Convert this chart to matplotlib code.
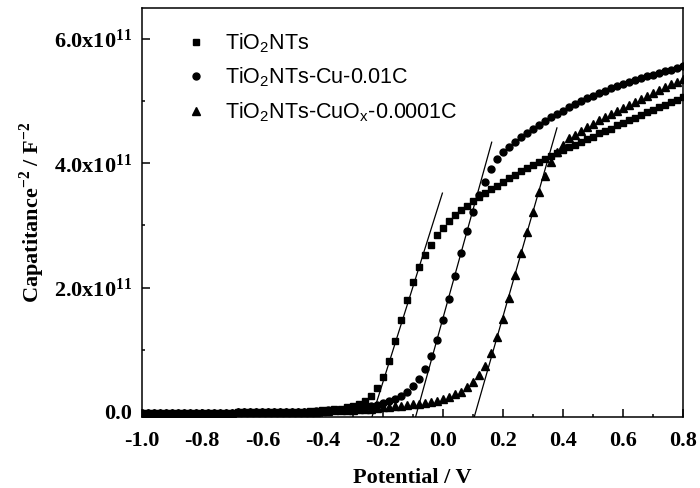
import numpy as np
import matplotlib
matplotlib.use('Agg')
import matplotlib.pyplot as plt
from matplotlib.ticker import MultipleLocator, FuncFormatter

plt.rcParams['font.family'] = ['Liberation Serif', 'DejaVu Serif']
plt.rcParams['mathtext.fontset'] = 'custom'
plt.rcParams['mathtext.rm'] = 'Liberation Serif:bold'
plt.rcParams['mathtext.bf'] = 'Liberation Serif:bold'
plt.rcParams['mathtext.sf'] = 'Liberation Sans'

## potential sweep, 0.02 V step
potential = np.linspace(-1.0, 0.8, 91)

## Capacitance^-2 in units of 1e11 F^-2
tio2 = ([-0.02] * 16 + [-0.01] * 9 +
        [0.00, 0.00, 0.00, 0.01, 0.01, 0.02, 0.03, 0.04, 0.05, 0.07,
         0.09, 0.12, 0.17, 0.25, 0.38, 0.56, 0.82, 1.14, 1.48, 1.80,
         2.09, 2.33, 2.53, 2.69, 2.84, 2.96, 3.07, 3.16, 3.25, 3.32,
         3.39, 3.46, 3.52, 3.58, 3.64, 3.70, 3.76, 3.81, 3.87, 3.92,
         3.97, 4.02, 4.07, 4.12, 4.17, 4.21, 4.26, 4.30, 4.35, 4.39,
         4.43, 4.48, 4.52, 4.56, 4.61, 4.65, 4.69, 4.73, 4.78, 4.82,
         4.86, 4.90, 4.94, 4.98, 5.02, 5.06])
tio2_cu = ([-0.02] * 16 + [-0.01] * 9 +
           [-0.01, 0.00, 0.00, 0.00, 0.01, 0.01, 0.02, 0.02, 0.03, 0.04,
            0.05, 0.06, 0.07, 0.09, 0.11, 0.14, 0.18, 0.21, 0.26, 0.32,
            0.41, 0.53, 0.69, 0.90, 1.16, 1.47, 1.82, 2.18, 2.56, 2.91,
            3.22, 3.49, 3.70, 3.91, 4.07, 4.18, 4.27, 4.35, 4.42, 4.49,
            4.56, 4.62, 4.68, 4.74, 4.80, 4.85, 4.90, 4.95, 5.00, 5.05,
            5.09, 5.13, 5.17, 5.21, 5.25, 5.28, 5.31, 5.34, 5.37, 5.40,
            5.43, 5.45, 5.48, 5.51, 5.54, 5.57])
tio2_cuox = ([-0.02] * 16 + [-0.01] * 9 +
             [-0.01, -0.01, 0.00, 0.00, 0.00, 0.01, 0.01, 0.02, 0.02, 0.03,
              0.03, 0.04, 0.04, 0.05, 0.06, 0.07, 0.08, 0.09, 0.10, 0.11,
              0.12, 0.13, 0.14, 0.16, 0.18, 0.21, 0.24, 0.28, 0.32, 0.39,
              0.48, 0.59, 0.74, 0.94, 1.20, 1.50, 1.83, 2.20, 2.56, 2.90,
              3.22, 3.53, 3.80, 4.02, 4.18, 4.30, 4.40, 4.46, 4.52, 4.58,
              4.64, 4.69, 4.74, 4.79, 4.84, 4.89, 4.94, 4.99, 5.04, 5.09,
              5.14, 5.18, 5.23, 5.27, 5.31, 5.35])

## linear fits (end points, V and 1e11 F^-2)
fit_tio2 = ([-0.235, -0.001], [-0.08, 3.52])
fit_cu = ([-0.090, 0.163], [-0.08, 4.34])
fit_cuox = ([0.104, 0.380], [-0.10, 4.57])

labels = [r'TiO$_\mathsf{2}$NTs',
          r'TiO$_\mathsf{2}$NTs-Cu-0.01C',
          r'TiO$_\mathsf{2}$NTs-CuO$_\mathsf{x}$-0.0001C']

fig = plt.figure(figsize=(7, 4.88), dpi=100)
ax = fig.add_axes([0.203, 0.1455, 0.773, 0.838])

sc = 1e11
ax.plot(potential, np.array(tio2) * sc, 's', color='k', ms=4.3, label=labels[0])
ax.plot(potential, np.array(tio2_cu) * sc, 'o', color='k', ms=5.0, label=labels[1])
ax.plot(potential, np.array(tio2_cuox) * sc, '^', color='k', ms=5.6, label=labels[2])

for fx, fy in [fit_tio2, fit_cu, fit_cuox]:
	ax.plot(fx, np.array(fy) * sc, '-', color='k', lw=0.9)

ax.set_xlim(-1.0, 0.8)
ax.set_ylim(-0.085e11, 6.5e11)

ax.xaxis.set_major_locator(MultipleLocator(0.2))
ax.xaxis.set_minor_locator(MultipleLocator(0.1))
ax.yaxis.set_major_locator(MultipleLocator(2e11))
ax.yaxis.set_minor_locator(MultipleLocator(1e11))

def yfmt(v, pos):
	if abs(v) < 1:
		return '0.0'
	return r'$\mathrm{%.1fx10^{11}}$' % (v / 1e11)
ax.yaxis.set_major_formatter(FuncFormatter(yfmt))
ax.xaxis.set_major_formatter(FuncFormatter(lambda v, p: '%.1f' % v))

ax.tick_params(which='both', direction='in', top=False, right=False, width=1.1)
ax.tick_params(which='major', length=5.5, labelsize=16, pad=7)
ax.tick_params(axis='x', which='major', pad=10)
ax.tick_params(which='minor', length=2.5)
for lab in ax.get_xticklabels() + ax.get_yticklabels():
	lab.set_fontweight('bold')
for s in ax.spines.values():
	s.set_linewidth(1.1)

ax.set_xlabel('Potential / V', fontsize=16, fontweight='bold', labelpad=12)
ax.set_ylabel(r'Capatitance$^{\mathrm{-2}}$ / F$^{\mathrm{-2}}$', fontsize=16,
              fontweight='bold', labelpad=5)

ax.legend(loc='upper left', bbox_to_anchor=(0.043, 0.99), frameon=False,
          prop={'family': 'Liberation Sans', 'size': 15.5}, handlelength=1.0,
          handletextpad=0.85, labelspacing=0.5, numpoints=1)

fig.savefig('out.png', dpi=100)
